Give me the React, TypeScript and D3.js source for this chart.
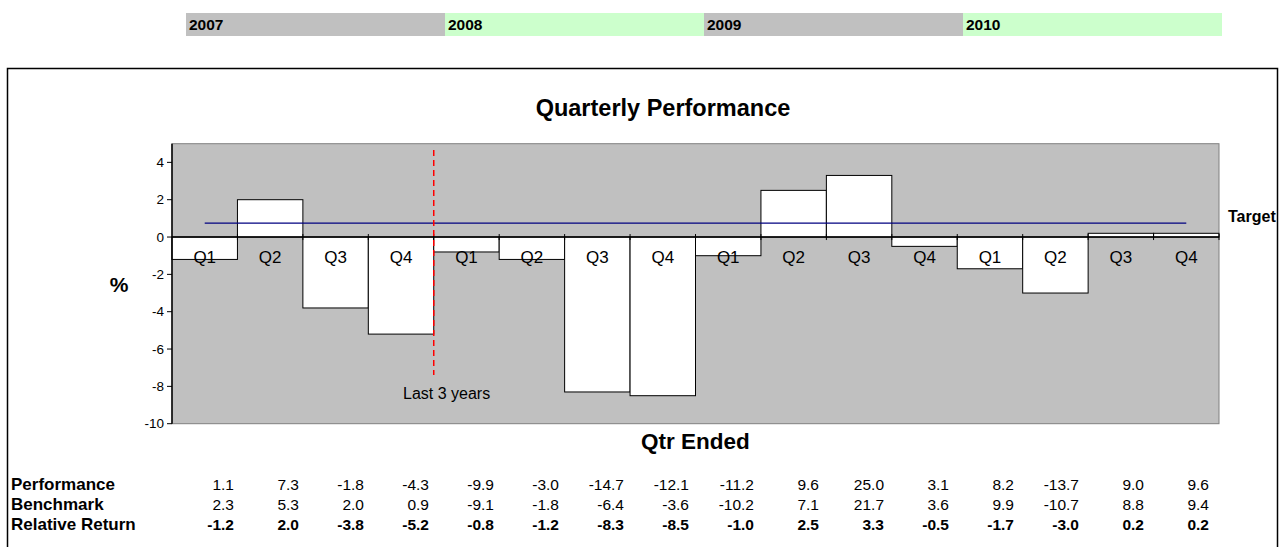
import React from 'react';
import * as d3 from 'd3';

const years = ['2007', '2008', '2009', '2010'];
const yearColors = ['#C0C0C0', '#CCFFCC', '#C0C0C0', '#CCFFCC'];
const quarterNames = ['Q1', 'Q2', 'Q3', 'Q4'];
const categories = years.flatMap((y) => quarterNames.map((q) => `${y} ${q}`));
const performance = [1.1, 7.3, -1.8, -4.3, -9.9, -3.0, -14.7, -12.1, -11.2, 9.6, 25.0, 3.1, 8.2, -13.7, 9.0, 9.6];
const benchmark = [2.3, 5.3, 2.0, 0.9, -9.1, -1.8, -6.4, -3.6, -10.2, 7.1, 21.7, 3.6, 9.9, -10.7, 8.8, 9.4];
const relativeReturn = [-1.2, 2.0, -3.8, -5.2, -0.8, -1.2, -8.3, -8.5, -1.0, 2.5, 3.3, -0.5, -1.7, -3.0, 0.2, 0.2];
const targetValue = 0.75;
const yTicks = [-10, -8, -6, -4, -2, 0, 2, 4];
const markerIndex = 4; // "Last 3 years" starts before this category
const tableRows = [
  { label: 'Performance', values: performance, bold: false },
  { label: 'Benchmark', values: benchmark, bold: false },
  { label: 'Relative Return', values: relativeReturn, bold: true },
];

const FONT = 'Liberation Sans, Arial, Helvetica, sans-serif';

export default function App() {
  const W = 1279;
  const H = 547;
  const plot = { left: 172, right: 1219, top: 143.7, bottom: 423.7 };

  const x = d3.scaleBand<string>().domain(categories).range([plot.left, plot.right]).paddingInner(0).paddingOuter(0);
  const y = d3.scaleLinear().domain([-10, 5]).range([plot.bottom, plot.top]);
  const yearX = d3.scaleBand<string>().domain(years).range([186, 1222]);
  const colX = d3.scaleLinear().domain([0, categories.length - 1]).range([234, 1209]);

  const bw = x.bandwidth();
  const y0 = y(0);
  const markerX = x(categories[markerIndex])!;

  return (
    <svg width={W} height={H} style={{ position: 'absolute', left: 0, top: 0, background: '#fff' }} fontFamily={FONT}>
      {/* Year header bars */}
      {years.map((yr, i) => (
        <g key={yr}>
          <rect x={yearX(yr)} y={13} width={yearX.bandwidth()} height={23} fill={yearColors[i]} />
          <text x={yearX(yr)! + 3} y={30} fontSize={15.5} fontWeight="bold" fill="#000">{yr}</text>
        </g>
      ))}

      {/* Chart frame */}
      <rect x={7.5} y={68.5} width={1270} height={500} fill="#fff" stroke="#000" strokeWidth={1.5} />

      {/* Title */}
      <text x={663} y={116} textAnchor="middle" fontSize={23.5} fontWeight="bold">Quarterly Performance</text>

      {/* Plot area */}
      <rect x={plot.left} y={plot.top} width={plot.right - plot.left} height={plot.bottom - plot.top} fill="#C0C0C0" stroke="#808080" strokeWidth={1} />

      {/* Bars */}
      {relativeReturn.map((v, i) => {
        const c = categories[i];
        const yv = y(v);
        return (
          <rect key={c} x={x(c)} y={Math.min(yv, y0)} width={bw} height={Math.abs(yv - y0)} fill="#fff" stroke="#000" strokeWidth={1} />
        );
      })}

      {/* Y axis */}
      <line x1={plot.left} x2={plot.left} y1={plot.top} y2={plot.bottom} stroke="#000" strokeWidth={1.5} />
      {yTicks.map((t) => (
        <g key={t}>
          <line x1={plot.left - 5} x2={plot.left} y1={y(t)} y2={y(t)} stroke="#000" />
          <text x={plot.left - 8} y={y(t)} dy="0.35em" textAnchor="end" fontSize={13.5}>{t}</text>
        </g>
      ))}

      {/* Zero line / category axis */}
      <line x1={plot.left} x2={plot.right} y1={y0} y2={y0} stroke="#000" strokeWidth={1.5} />
      {categories.map((c) => (
        <line key={c} x1={x(c)! + bw} x2={x(c)! + bw} y1={y0 - 3} y2={y0 + 3} stroke="#000" />
      ))}

      {/* Target line */}
      <line x1={x(categories[0])! + bw / 2} x2={x(categories[categories.length - 1])! + bw / 2} y1={y(targetValue)} y2={y(targetValue)} stroke="#000080" strokeWidth={1.2} />
      <text x={1228} y={222} fontSize={16} fontWeight="bold">Target</text>

      {/* Quarter labels */}
      {categories.map((c, i) => (
        <text key={c} x={x(c)! + bw / 2} y={263} textAnchor="middle" fontSize={17}>{quarterNames[i % 4]}</text>
      ))}

      {/* Last 3 years marker */}
      <line x1={markerX} x2={markerX} y1={150} y2={375} stroke="#FF0000" strokeWidth={1.5} strokeDasharray="6,4" />
      <text x={403} y={399} fontSize={16}>Last 3 years</text>

      {/* Axis titles */}
      <text x={119} y={292} textAnchor="middle" fontSize={21} fontWeight="bold">%</text>
      <text x={(plot.left + plot.right) / 2} y={449} textAnchor="middle" fontSize={22.5} fontWeight="bold">Qtr Ended</text>

      {/* Data table */}
      {tableRows.map((row, r) => (
        <g key={row.label}>
          <text x={11} y={490 + r * 20} fontSize={17} fontWeight="bold">{row.label}</text>
          {row.values.map((v, i) => (
            <text key={i} x={colX(i)} y={490 + r * 20} textAnchor="end" fontSize={15.5} fontWeight={row.bold ? 'bold' : 'normal'}>
              {v.toFixed(1)}
            </text>
          ))}
        </g>
      ))}
    </svg>
  );
}
